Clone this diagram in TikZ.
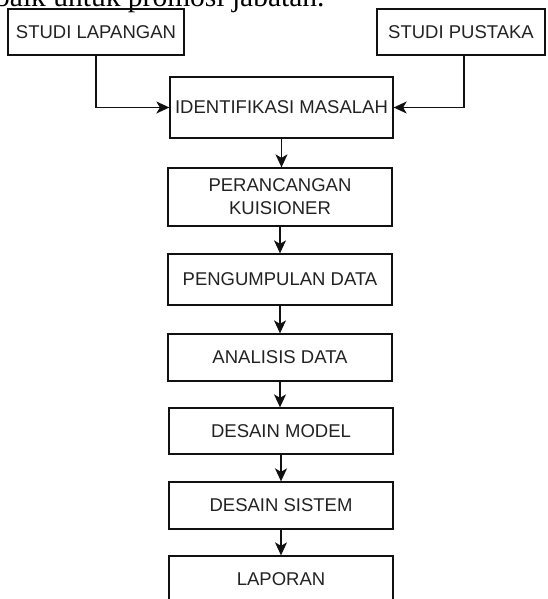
\documentclass[tikz,border=0pt]{standalone}
\usepackage{fontspec}
\setmainfont{Liberation Sans}
\newfontfamily\serifbody{Liberation Serif}
\usetikzlibrary{arrows.meta}
\definecolor{txt}{HTML}{222222}
\definecolor{ln}{HTML}{111111}
\tikzset{
  stepbox/.style={draw=ln, line width=1.3pt, rectangle, inner sep=0pt, align=center,
    text=txt, font=\fontsize{18.5}{23}\selectfont},
  flow/.style={draw=ln, line width=1.3pt, -{Stealth[length=13pt,width=12pt,inset=3.5pt]}}
}
\begin{document}
\begin{tikzpicture}[x=1pt,y=-1pt]
\useasboundingbox (0,0) rectangle (547,599);
\clip (0,0) rectangle (547,599);
\node[anchor=base west, inner sep=0pt, font=\serifbody\fontsize{29.5}{30}\selectfont] (top) at (-5,7) {baik untuk promosi jabatan.};
\node[stepbox, minimum width=176pt, minimum height=46pt] (sl) at (96,32) {STUDI LAPANGAN};
\node[stepbox, minimum width=168pt, minimum height=46pt] (sp) at (461,32) {STUDI PUSTAKA};
\node[stepbox, minimum width=223pt, minimum height=61pt] (im) at (281.5,107.5) {IDENTIFIKASI MASALAH};
\node[stepbox, minimum width=224pt, minimum height=58pt] (pk) at (280,197) {PERANCANGAN\\KUISIONER};
\node[stepbox, minimum width=224pt, minimum height=51pt] (pd) at (280,279.5) {PENGUMPULAN DATA};
\node[stepbox, minimum width=224pt, minimum height=47pt] (ad) at (280,357.5) {ANALISIS DATA};
\node[stepbox, minimum width=224pt, minimum height=46pt] (dm) at (281,431) {DESAIN MODEL};
\node[stepbox, minimum width=224pt, minimum height=47pt] (ds) at (281,505.5) {DESAIN SISTEM};
\node[stepbox, minimum width=224pt, minimum height=46pt] (lp) at (281,579) {LAPORAN};
\draw[flow] (sl.south) |- (im.west);
\draw[flow] ([xshift=3pt]sp.south) |- (im.east);
\draw[flow] (im.south) -- (im.south |- pk.north);
\draw[flow] (pk.south) -- (pk.south |- pd.north);
\draw[flow] (pd.south) -- (pd.south |- ad.north);
\draw[flow] (ad.south) -- (ad.south |- dm.north);
\draw[flow] (dm.south) -- (dm.south |- ds.north);
\draw[flow] (ds.south) -- (ds.south |- lp.north);
\end{tikzpicture}
\end{document}
